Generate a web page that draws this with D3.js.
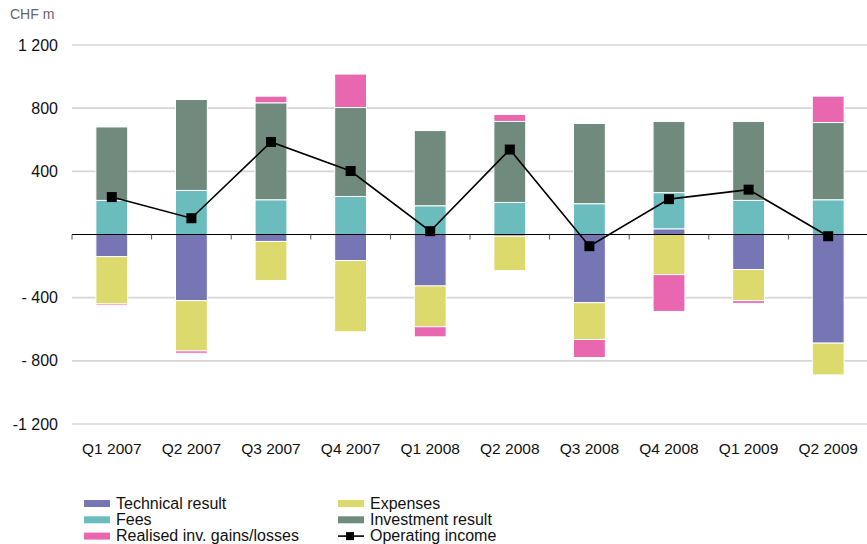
<!DOCTYPE html>
<head>
<meta charset="utf-8">
<style>
  body { margin: 0; background: #fff; }
  text { font-family: "Liberation Sans", Arial, sans-serif; }
</style>
<script src="https://d3js.org/d3.v7.min.js"></script>
</head>
<body>
<script>
var quarters = ["Q1 2007", "Q2 2007", "Q3 2007", "Q4 2007", "Q1 2008", "Q2 2008", "Q3 2008", "Q4 2008", "Q1 2009", "Q2 2009"];
var technical = [-140, -419, -44, -165, -326, -11, -432, 36, -222, -688];
var fees = [216, 279, 220, 241, 182, 203, 195, 229, 216, 220];
var investment = [465, 576, 614, 563, 476, 513, 508, 451, 500, 489];
var expenses = [-300, -318, -248, -451, -258, -218, -233, -254, -197, -201];
var realised = [-10, -15, 42, 212, -64, 44, -114, -233, -17, 167];
var operating = [237, 103, 586, 402, 21, 538, -74, 224, 284, -11];
var yTicks = [1200, 800, 400, -400, -800, -1200];
var yTickLabels = ["1 200", "800", "400", "- 400", "- 800", "-1 200"];

var width = 867, height = 544;
var svg = d3.select("body").append("svg").attr("width", width).attr("height", height);

var x = d3.scaleBand().domain(quarters).range([72, 868]).paddingInner(0.6).paddingOuter(0.3);
var y = d3.scaleLinear().domain([-1200, 1200]).range([424, 45]);

var series = [
  { key: "technical", name: "Technical result", color: "#7776b4", values: technical },
  { key: "fees", name: "Fees", color: "#6bbcbd", values: fees },
  { key: "investment", name: "Investment result", color: "#708a7d", values: investment },
  { key: "expenses", name: "Expenses", color: "#dcd96d", values: expenses },
  { key: "realised", name: "Realised inv. gains/losses", color: "#e867af", values: realised }
];

var rows = quarters.map(function(q, i) {
  var r = { q: q };
  series.forEach(function(s) { r[s.key] = s.values[i]; });
  return r;
});

// gridlines
svg.append("g").selectAll("line").data(yTicks).enter().append("line")
  .attr("x1", 72).attr("x2", width)
  .attr("y1", function(d) { return y(d); }).attr("y2", function(d) { return y(d); })
  .attr("stroke", "#d6d6d6").attr("stroke-width", 1.6);

svg.append("g").selectAll("text").data(yTicks).enter().append("text")
  .attr("x", 58).attr("y", function(d) { return y(d) + 5.5; })
  .attr("text-anchor", "end").attr("font-size", 16).attr("fill", "#111")
  .text(function(d, i) { return yTickLabels[i]; });

svg.append("text").attr("x", 10).attr("y", 19).attr("font-size", 14).attr("fill", "#666").text("CHF m");

// stacked bars
var stack = d3.stack().keys(series.map(function(s) { return s.key; })).offset(d3.stackOffsetDiverging);
var stacked = stack(rows);

svg.append("g").selectAll("g").data(stacked).enter().append("g")
  .attr("fill", function(d, i) { return series[i].color; })
  .selectAll("rect").data(function(d) { return d; }).enter().append("rect")
  .attr("x", function(d) { return x(d.data.q); })
  .attr("width", x.bandwidth())
  .attr("y", function(d) { return y(Math.max(d[0], d[1])); })
  .attr("height", function(d) { return Math.abs(y(d[0]) - y(d[1])); })
  .attr("stroke", "#fff").attr("stroke-width", 1);

// zero axis with ticks
svg.append("line").attr("x1", 72).attr("x2", width).attr("y1", y(0)).attr("y2", y(0))
  .attr("stroke", "#000").attr("stroke-width", 1.2);
svg.append("g").selectAll("line").data(quarters).enter().append("line")
  .attr("x1", function(d) { return x(d) - x.step() * 0.3; })
  .attr("x2", function(d) { return x(d) - x.step() * 0.3; })
  .attr("y1", y(0)).attr("y2", y(0) + 5)
  .attr("stroke", "#555").attr("stroke-width", 1);

svg.append("g").selectAll("text").data(quarters).enter().append("text")
  .attr("x", function(d) { return x(d) + x.bandwidth() / 2; })
  .attr("y", 454).attr("text-anchor", "middle").attr("font-size", 15.5).attr("fill", "#111")
  .text(function(d) { return d; });

// operating income line
var line = d3.line()
  .x(function(d, i) { return x(quarters[i]) + x.bandwidth() / 2; })
  .y(function(d) { return y(d); });
svg.append("path").datum(operating).attr("d", line)
  .attr("fill", "none").attr("stroke", "#000").attr("stroke-width", 1.6);
svg.append("g").selectAll("rect").data(operating).enter().append("rect")
  .attr("x", function(d, i) { return x(quarters[i]) + x.bandwidth() / 2 - 5; })
  .attr("y", function(d) { return y(d) - 5; })
  .attr("width", 10).attr("height", 10).attr("fill", "#000");

// legend
var legendItems = [
  { s: series[0], col: 0, row: 0 },
  { s: series[1], col: 0, row: 1 },
  { s: series[4], col: 0, row: 2 },
  { s: series[3], col: 1, row: 0 },
  { s: series[2], col: 1, row: 1 }
];
var lg = svg.append("g");
legendItems.forEach(function(it) {
  var lx = it.col ? 338 : 84, ly = 503.5 + it.row * 16.3;
  lg.append("rect").attr("x", lx).attr("y", ly - 3.5).attr("width", 26).attr("height", 7).attr("fill", it.s.color);
  lg.append("text").attr("x", lx + 32).attr("y", ly + 5).attr("font-size", 16).attr("fill", "#111").text(it.s.name);
});
var oy = 503.5 + 2 * 16.3;
lg.append("line").attr("x1", 338).attr("x2", 364).attr("y1", oy).attr("y2", oy).attr("stroke", "#000").attr("stroke-width", 1.6);
lg.append("rect").attr("x", 346).attr("y", oy - 4).attr("width", 8).attr("height", 8).attr("fill", "#000");
lg.append("text").attr("x", 370).attr("y", oy + 5).attr("font-size", 16).attr("fill", "#111").text("Operating income");
</script>
</body>
</html>
